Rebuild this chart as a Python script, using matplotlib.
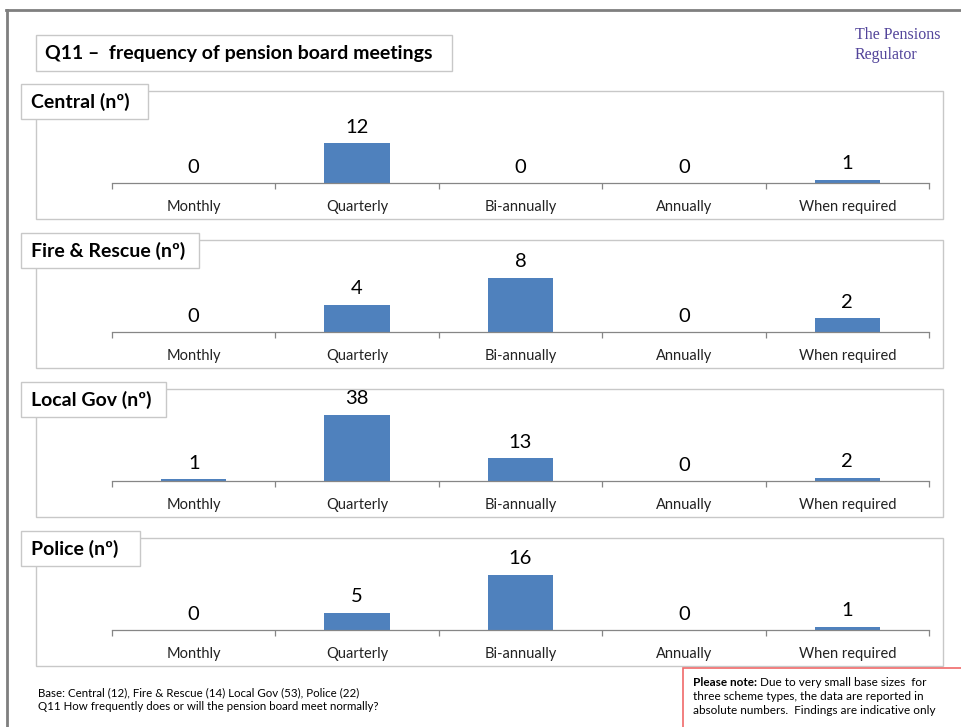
import numpy as np
import matplotlib
matplotlib.use("Agg")
from matplotlib import pyplot as plt
from matplotlib.patches import Rectangle

plt.rcParams['font.family'] = ['Lato', 'DejaVu Sans']

# data
categories = ['Monthly', 'Quarterly', 'Bi-annually', 'Annually', 'When required']
panel_titles = ['Central (n\u00ba)', 'Fire & Rescue (n\u00ba)', 'Local Gov (n\u00ba)', 'Police (n\u00ba)']
central = [0, 12, 0, 0, 1]
fire_rescue = [0, 4, 8, 0, 2]
local_gov = [1, 38, 13, 0, 2]
police = [0, 5, 16, 0, 1]

title = 'Q11 \u2013  frequency of pension board meetings'
base_lines = ['Base: Central (12), Fire & Rescue (14) Local Gov (53), Police (22)',
              'Q11 How frequently does or will the pension board meet normally?']

W, H = 962, 727
BAR = '#4f81bd'
BOX_EDGE = '#c8c8c8'

fig = plt.figure(figsize=(W / 100, H / 100), dpi=100)


def fx(px):
    return px / W


def fy(py):
    return 1 - py / H


def box(x0, y0, x1, y1, ec=BOX_EDGE, fc='white', lw=1.0, z=1):
    r = Rectangle((fx(x0), fy(y1)), fx(x1) - fx(x0), fy(y0) - fy(y1),
                  transform=fig.transFigure, facecolor=fc, edgecolor=ec,
                  linewidth=lw, zorder=z)
    fig.add_artist(r)


# slide frame
fig.add_artist(plt.Line2D([fx(7), fx(7)], [fy(10), 0], color='#7f7f7f', lw=2, transform=fig.transFigure))
fig.add_artist(plt.Line2D([fx(6), 1], [fy(10), fy(10)], color='#7f7f7f', lw=2, transform=fig.transFigure))

# title
box(36, 35, 452, 71)
fig.text(fx(45), fy(53), title, fontsize=14, fontweight='bold', va='center', ha='left', zorder=5)

# logo
fig.text(fx(855), fy(35), 'The Pensions', fontsize=11.5, family='Liberation Serif',
         color='#52449a', va='center', ha='left')
fig.text(fx(855), fy(55), 'Regulator', fontsize=11.5, family='Liberation Serif',
         color='#52449a', va='center', ha='left')

panels = [central, fire_rescue, local_gov, police]
axis_y = [183, 332, 481, 630]
ymax = [21.0, 10.3, 40.2, 20.3]
label_w = [148, 199, 166, 140]

x = np.arange(len(categories))
for vals, name, ay, top, lw_ in zip(panels, panel_titles, axis_y, ymax, label_w):
    # panel frame
    box(36, ay - 92, 943, ay + 36, z=0)
    # panel label
    box(21, ay - 99, lw_, ay - 64, z=3)
    fig.text(fx(31), fy(ay - 81), name, fontsize=14, fontweight='bold', va='center', ha='left', zorder=6)

    ax = fig.add_axes([fx(112), fy(ay), fx(929) - fx(112), fy(ay - 70) - fy(ay)])
    ax.patch.set_visible(False)
    bars = ax.bar(x, vals, width=0.4, color=BAR, zorder=2)
    for b, v in zip(bars, vals):
        ax.annotate(str(v), (b.get_x() + b.get_width() / 2, v), xytext=(0, 11.5),
                    textcoords='offset points', ha='center', va='center', fontsize=14.5)
    ax.set_xlim(-0.5, len(categories) - 0.5)
    ax.set_ylim(0, top)
    for s in ['top', 'right', 'left']:
        ax.spines[s].set_visible(False)
    ax.spines['bottom'].set_color('#868686')
    ax.spines['bottom'].set_linewidth(0.9)
    ax.set_yticks([])
    ax.set_xticks(np.arange(-0.5, len(categories)), labels=[])
    ax.tick_params(axis='x', which='major', length=4, color='#868686', width=0.9)
    ax.set_xticks(x, labels=categories, minor=True)
    ax.tick_params(axis='x', which='minor', length=0, pad=12, labelsize=10.5, labelcolor='#222222')

# footnote
fig.text(fx(38), fy(693), base_lines[0], fontsize=8.3, va='center', ha='left')
fig.text(fx(38), fy(706), base_lines[1], fontsize=8.3, va='center', ha='left')

# note box
box(683, 668, 970, 730, ec='#f06a6a', lw=1.2)
note_x = fx(693)
note_fs = 8.5
t = fig.text(note_x, fy(683), 'Please note:', fontsize=note_fs, fontweight='bold', va='center', ha='left', zorder=6)
fig.canvas.draw()
bb = t.get_window_extent()
fig.text(bb.x1 / W + fx(3), fy(683), 'Due to very small base sizes  for', fontsize=note_fs,
         va='center', ha='left', zorder=6)
fig.text(note_x, fy(697), 'three scheme types, the data are reported in', fontsize=note_fs,
         va='center', ha='left', zorder=6)
fig.text(note_x, fy(711), 'absolute numbers.  Findings are indicative only', fontsize=note_fs,
         va='center', ha='left', zorder=6)

fig.savefig('out.png', dpi=100)
